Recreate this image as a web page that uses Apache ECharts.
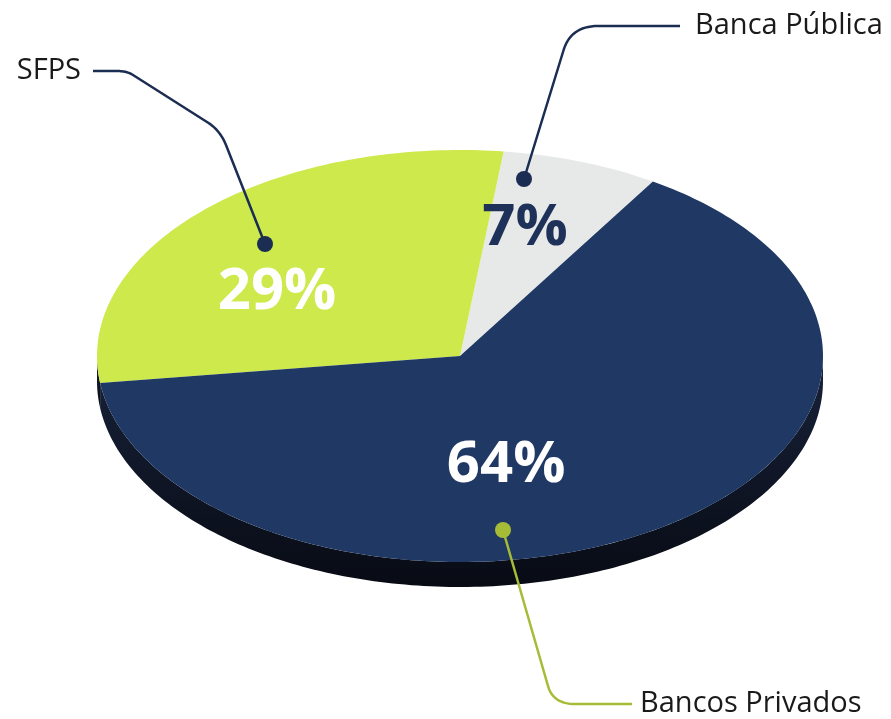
<!DOCTYPE html>
<html><head><meta charset="utf-8">
<script src="https://cdn.jsdelivr.net/npm/echarts@6/dist/echarts.min.js"></script>
<style>html,body{margin:0;padding:0;background:#fff}#c{width:891px;height:719px}</style>
</head><body><div id="c"></div>
<script>
// ---- data ----
const categories = ['Banca Pública', 'SFPS', 'Bancos Privados'];
const values = [7, 29, 64];
const percentLabels = ['7%', '29%', '64%'];

// ---- styles / layout ----
const sliceColors = ['#e7e9e9', '#cde94b', '#1f3864'];
const pctColors = ['#1e3159', '#ffffff', '#ffffff'];
const geo = { cx: 460, cy: 356, rx: 363, ry: 206, depth: 25, startAngle: 57.9 };
const pctOffsets = [[0.179, -0.62], [-0.504, -0.31], [0.127, 0.53]];
const leaders = [
  { color: '#1b2d52', dot: [524, 179], r: 8,
    path: [['M', 524, 179], ['L', 563, 52], ['Q', 570, 26, 598, 26], ['L', 680, 26]],
    text: [695, 26], align: 'left' },
  { color: '#1b2d52', dot: [265, 244], r: 8,
    path: [['M', 265, 244], ['L', 226, 145], ['Q', 220, 130, 207, 122], ['L', 133, 75], ['Q', 127, 71, 117, 71], ['L', 93, 71]],
    text: [81, 71], align: 'right' },
  { color: '#a6bb36', dot: [503, 530], r: 8,
    path: [['M', 503, 530], ['L', 548, 686], ['Q', 553, 704, 575, 704], ['L', 632, 704]],
    text: [640, 704], align: 'left' }
];

const total = values.reduce((a, b) => a + b, 0);
const starts = [];
let acc = geo.startAngle;
values.forEach(v => { starts.push(acc); acc += v / total * 360; });

function ept(deg, f, dy) {
  const t = deg * Math.PI / 180;
  return [geo.cx + geo.rx * f * Math.cos(t), geo.cy - geo.ry * f * Math.sin(t) + (dy || 0)];
}
function arc(a0, a1, dy) {
  const pts = [];
  const n = Math.max(2, Math.ceil(Math.abs(a1 - a0)));
  for (let i = 0; i <= n; i++) pts.push(ept(a0 + (a1 - a0) * i / n, 1, dy));
  return pts;
}
function samplePath(cmds) {
  const pts = [];
  let cur = null;
  cmds.forEach(c => {
    if (c[0] === 'M' || c[0] === 'L') { cur = [c[1], c[2]]; pts.push(cur); }
    else if (c[0] === 'Q') {
      const p0 = cur, p1 = [c[1], c[2]], p2 = [c[3], c[4]];
      for (let i = 1; i <= 16; i++) {
        const t = i / 16, u = 1 - t;
        pts.push([u * u * p0[0] + 2 * u * t * p1[0] + t * t * p2[0], u * u * p0[1] + 2 * u * t * p1[1] + t * t * p2[1]]);
      }
      cur = p2;
    }
  });
  return pts;
}

function renderItem(params, api) {
  const i = params.dataIndex;
  const a0 = starts[i];
  const a1 = a0 + api.value(1) / total * 360;
  const children = [];
  // side rim for the front half (180..360 and 540..720)
  [[180, 360], [540, 720]].forEach(([lo, hi]) => {
    const s = Math.max(a0, lo), e = Math.min(a1, hi);
    if (e > s) {
      const top = arc(s, e, 0);
      const bot = arc(e, s, geo.depth);
      children.push({
        type: 'polygon', z2: 1,
        shape: { points: top.concat(bot) },
        style: {
          fill: new echarts.graphic.LinearGradient(0, 0, 0, 1, [
            { offset: 0, color: '#18223a' }, { offset: 1, color: '#080b14' }
          ])
        }
      });
    }
  });
  // top face
  children.push({
    type: 'polygon', z2: 5,
    shape: { points: [[geo.cx, geo.cy]].concat(arc(a0, a1, 0)) },
    style: { fill: sliceColors[i] }
  });
  // percentage label
  const off = pctOffsets[i];
  children.push({
    type: 'text', z2: 20,
    x: geo.cx + off[0] * geo.rx, y: geo.cy + off[1] * geo.ry,
    style: {
      text: percentLabels[i], fill: pctColors[i],
      font: '700 58px "Open Sans"', align: 'center', verticalAlign: 'middle'
    }
  });
  // leader line, dot and name
  const L = leaders[i];
  children.push({
    type: 'polyline', z2: 30,
    shape: { points: samplePath(L.path) },
    style: { stroke: L.color, lineWidth: 2.5, fill: null }
  });
  children.push({
    type: 'circle', z2: 31,
    shape: { cx: L.dot[0], cy: L.dot[1], r: L.r },
    style: { fill: L.color }
  });
  children.push({
    type: 'text', z2: 32, x: L.text[0], y: L.text[1],
    style: {
      text: categories[i], fill: '#1a1a1a',
      font: '400 29px "Open Sans"', align: L.align, verticalAlign: 'middle'
    }
  });
  return { type: 'group', children: children };
}

const chart = echarts.init(document.getElementById('c'));
chart.setOption({
  backgroundColor: '#ffffff',
  animation: false,
  series: [{
    type: 'custom',
    coordinateSystem: 'none',
    renderItem: renderItem,
    data: categories.map((c, i) => [i, values[i]])
  }]
});
</script></body></html>
